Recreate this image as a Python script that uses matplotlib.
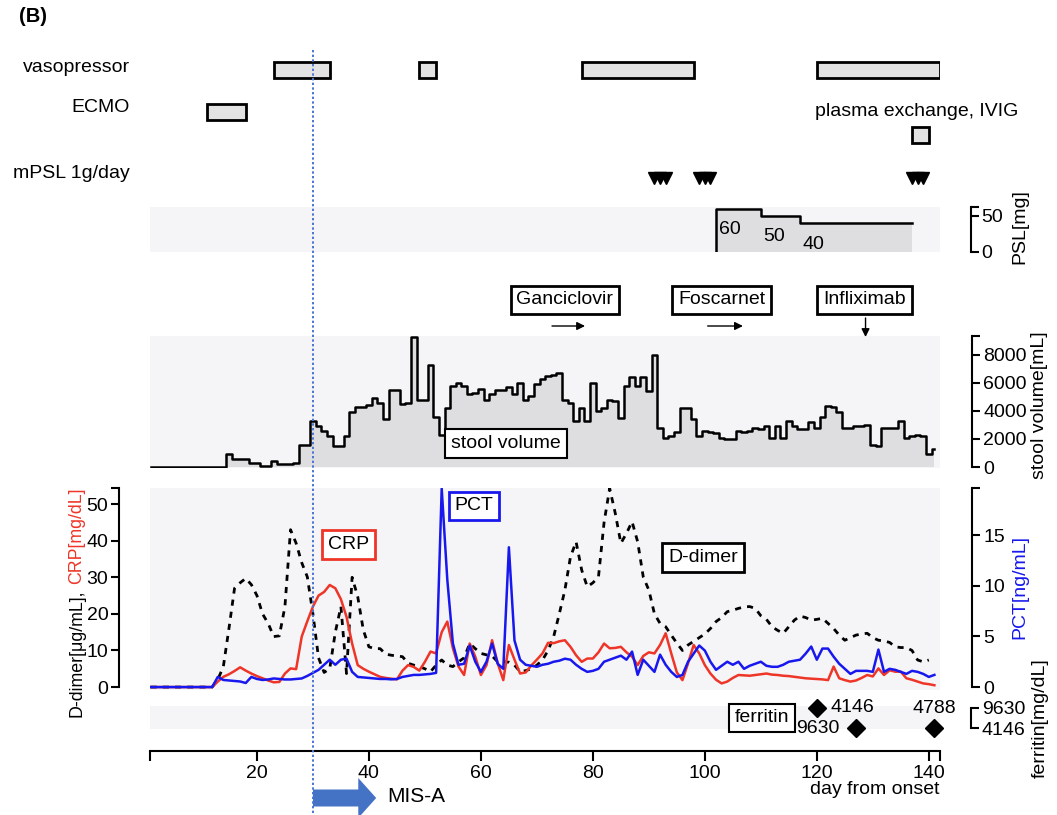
import numpy as np
import matplotlib.pyplot as plt
from matplotlib.patches import FancyArrow

plt.rcParams['font.family'] = ['Liberation Sans', 'DejaVu Sans']
plt.rcParams['font.size'] = 14
plt.rcParams['axes.linewidth'] = 1.5

W, H = 1057, 815

# ---- data ----
vasopressor = [(23, 33), (49, 52), (78, 98), (120, 142)]
ecmo = [(11, 18)]
plasma_ivig = [(137, 140)]
mpsl_days = [91, 92, 93, 99, 100, 101, 137, 138, 139]

psl_start = [102, 110, 117]
psl_dose = [60, 50, 40]
psl_end = 137

drugs = ['Ganciclovir', 'Foscarnet', 'Infliximab']
drug_label_day = [75, 103, 128.5]
drug_arrow_from = [72.7, 100.5]
drug_arrow_to = [78.6, 106.8]
infliximab_day = 128.7

# daily values from day 1
stool_ml = [0] * 14 + [
    950, 550, 550, 550, 260, 260, 100, 100, 450, 250, 250, 200, 300, 1550, 1600,
    3300, 2900, 2600, 2200, 1500, 1500, 2200, 3900, 4300, 4300, 4400, 4950, 4600,
    3400, 5500, 5500, 4500, 4600, 9250, 4800, 4800, 7300, 3600, 2300, 4200, 5800,
    6000, 5800, 5200, 5300, 5600, 4800, 5200, 5500, 5500, 5700, 5200, 6000, 4800,
    5100, 5900, 6300, 6500, 6600, 6700, 4800, 4600, 3300, 4200, 3300, 6000, 4000,
    4200, 4800, 4700, 3500, 5800, 6400, 5800, 6400, 5400, 8000, 2800, 2100, 2200,
    2500, 4200, 4200, 3400, 2200, 2550, 2500, 2400, 2100, 2000, 2000, 2550, 2500,
    2550, 2800, 2700, 2900, 2100, 2900, 2100, 3300, 2900, 2700, 2700, 3200, 2800,
    3600, 4350, 4300, 3900, 2800, 2800, 2900, 2900, 3000, 1600, 1500, 2800, 2800,
    2800, 3300, 2100, 2200, 2300, 2200, 900, 1300]

crp = [0] * 12 + [
    1.5, 2.8, 3.5, 4.4, 5.4, 4.5, 3.7, 3.0, 2.4, 1.8, 1.3, 1.4, 3.7, 5.1, 4.9,
    13.8, 18, 22, 25, 26, 27.9, 27, 24, 19.2, 11.9, 6, 5, 4.2, 3.5, 2.8, 2.5, 2.3,
    2.1, 4.5, 6, 5.5, 4.5, 6.9, 9.7, 9.2, 15, 17.9, 10.6, 5.6, 3.3, 11.9, 8.3, 3.3,
    6, 12.8, 6.5, 1.9, 11.5, 7.5, 3.7, 4, 5.9, 7.5, 9.2, 12.1, 12, 12.5, 12.8, 11,
    8.7, 6.9, 7.8, 7.8, 9.5, 11.9, 10.6, 10.7, 11, 9.5, 8.3, 6, 8.5, 9.5, 9.2, 11.5,
    14.7, 9.2, 4, 1.9, 6.5, 11.5, 9.2, 6, 3.7, 2, 1, 1.5, 2.5, 3.3, 3.2, 3.1, 3.3,
    3.5, 3.7, 3.4, 3.3, 3.1, 3.0, 2.8, 2.6, 2.4, 2.3, 2.2, 2.1, 1.9, 5.6, 2.4, 1.9,
    1.5, 1.8, 2.5, 3.3, 2.9, 5.1, 3.3, 4.6, 4.2, 4.2, 2.4, 2.0, 1.5, 1.0, 0.8, 0.5]

pct = [0] * 12 + [
    1.0, 0.7, 0.65, 0.6, 0.55, 0.4, 1.0, 0.8, 0.7, 0.75, 0.85, 0.8, 0.75, 0.75,
    0.8, 0.85, 1.1, 1.4, 1.7, 2.2, 2.7, 2.2, 2.7, 2.8, 1.5, 1.0, 0.95, 0.9, 0.85,
    0.8, 0.8, 0.76, 0.8, 1.0, 1.1, 1.2, 1.2, 1.25, 1.3, 1.4, 19.6, 10.6, 4.3, 2.2,
    2.3, 4.1, 2.5, 1.5, 2.5, 4.3, 2.3, 1.8, 13.8, 4.6, 2.7, 2.2, 2.1, 2.0, 2.2, 2.3,
    2.5, 2.6, 2.8, 2.7, 2.2, 1.8, 1.5, 1.6, 1.8, 2.5, 2.7, 2.9, 3.1, 2.7, 3.5, 1.2,
    2.7, 2.1, 1.5, 3.2, 2.2, 1.5, 1.0, 1.2, 2.5, 3.3, 4.1, 3.6, 2.5, 1.7, 2.1, 2.5,
    2.2, 2.5, 1.8, 2.1, 2.3, 2.5, 2.1, 2.0, 2.0, 2.2, 2.5, 2.6, 2.7, 3.3, 4.0, 2.7,
    3.8, 3.8, 3.0, 2.3, 1.8, 1.3, 1.6, 1.6, 1.6, 1.5, 3.7, 1.5, 1.8, 1.7, 1.5, 1.3,
    1.6, 1.5, 1.3, 1.0, 1.2]

ddimer = [0] * 12 + [
    2, 5.6, 16, 27, 28.5, 29.7, 28, 25, 20, 17.4, 13.8, 14, 22, 43, 39.3, 34, 30.1,
    20, 8, 4, 5, 15, 22, 3.7, 30, 24.7, 15.6, 11, 10.5, 10.5, 9, 8.7, 8.5, 8.3, 6.5,
    6, 5.6, 5, 4.2, 6, 7.4, 6, 5.6, 6.9, 8, 11.9, 10.5, 9.2, 8.8, 8.5, 6.9, 6.9,
    6.8, 6, 4.2, 4.5, 5, 6, 7.4, 10, 13.8, 20, 26.5, 35.6, 39.7, 32, 27.4, 28.5,
    30.1, 45, 54.3, 47.5, 39.3, 42, 45.2, 39.7, 30.1, 26.5, 20, 17.4, 16.5, 14.2,
    12, 10, 11.5, 12.5, 13.5, 14.5, 16, 17.9, 19, 20.6, 21, 21.5, 21.9, 22, 21.5,
    19.5, 18.5, 16.5, 15.5, 14.7, 16.5, 18.3, 19.4, 19, 18.3, 18.5, 18.8, 17.4, 16,
    14.2, 12.8, 13.5, 14.2, 14.5, 14.7, 13.5, 12.8, 12.6, 12.2, 11, 10.8, 10.8, 10,
    7.4, 6.9, 7.4]

ferritin_days = [120, 127, 141]
ferritin_level = [9630, 4146, 4146]
ferritin_text = ['4146', '9630', '4788']

mis_a_day = 30
x_ticks = [20, 40, 60, 80, 100, 120, 140]

# ---- style ----
XL = (0.9, 142)
PANEL_BG = '#f5f5f7'
FILL = '#dedee0'
BAR = '#e3e3e3'
RED = '#ee3528'
BLUE = '#1818ee'
LINE_BLUE = '#4a74d6'


def box(left, top, right, bottom):
    return [left / W, 1 - bottom / H, (right - left) / W, (bottom - top) / H]


def bare(ax):
    ax.set_xlim(XL)
    for s in ax.spines.values():
        s.set_visible(False)
    ax.set_xticks([])
    ax.set_yticks([])


fig = plt.figure(figsize=(W / 100, H / 100), dpi=100)

# ---- treatment rows ----
ax_ev = fig.add_axes(box(150, 40, 940, 200))
bare(ax_ev)
ax_ev.set_ylim(200, 40)
ax_ev.patch.set_alpha(0)
for rows, ypos in [(vasopressor, 70), (ecmo, 111.5), (plasma_ivig, 135)]:
    for s, e in rows:
        ax_ev.barh(ypos, e - s, left=s, height=16, color=BAR,
                   edgecolor='black', linewidth=2)
ax_ev.plot(mpsl_days, [178] * len(mpsl_days), 'v', color='black', ms=8)

fig.text(130 / W, 1 - 67 / H, 'vasopressor', ha='right', va='center')
fig.text(130 / W, 1 - 108 / H, 'ECMO', ha='right', va='center')
fig.text(130 / W, 1 - 173 / H, 'mPSL 1g/day', ha='right', va='center')
fig.text(917 / W, 1 - 112 / H, 'plasma exchange, IVIG', ha='center', va='center')
fig.text(19 / W, 1 - 17 / H, '(B)', ha='left', va='center', fontweight='bold',
         fontsize=14.5)

# ---- PSL ----
ax_psl = fig.add_axes(box(150, 207, 940, 252))
bare(ax_psl)
ax_psl.set_facecolor(PANEL_BG)
ax_psl.set_ylim(0, 62.5)
edges = psl_start + [psl_end]
xs, ys = [psl_start[0]], [0]
for i, d in enumerate(psl_dose):
    xs += [edges[i], edges[i + 1]]
    ys += [d, d]
ax_psl.fill_between(xs, ys, color=FILL, lw=0)
ax_psl.plot(xs, ys, color='black', lw=1.8)
for s, d in zip(psl_start, psl_dose):
    ax_psl.annotate(str(d), (s, d), xytext=(2, -15), textcoords='offset points',
                    ha='left', va='center')

# ---- drugs, MIS-A marker ----
ax_ov = fig.add_axes(box(150, 0, 940, 815), zorder=10)
bare(ax_ov)
ax_ov.set_ylim(815, 0)
ax_ov.patch.set_alpha(0)
for name, d in zip(drugs, drug_label_day):
    ax_ov.text(d, 300, name, ha='center', va='center',
               bbox=dict(boxstyle='square,pad=0.3', fc='white', ec='black', lw=2))
for a, b in zip(drug_arrow_from, drug_arrow_to):
    ax_ov.annotate('', xy=(b, 326), xytext=(a, 326),
                   arrowprops=dict(arrowstyle='-|>', color='black', lw=1,
                                   mutation_scale=12, shrinkA=0, shrinkB=0))
ax_ov.annotate('', xy=(infliximab_day, 337), xytext=(infliximab_day, 318),
               arrowprops=dict(arrowstyle='-|>', color='black', lw=1,
                               mutation_scale=12, shrinkA=0, shrinkB=0))
ax_ov.vlines(mis_a_day, 50, 815, colors=LINE_BLUE, linestyles=(0, (1.2, 1.2)), lw=1.4)
ax_ov.add_patch(FancyArrow(mis_a_day, 798, 11.3, 0, width=17, head_width=40,
                           head_length=3.2, length_includes_head=True,
                           color='#4472c4', lw=0))
ax_ov.text(43.2, 797, 'MIS-A', ha='left', va='center', fontsize=15)

# ---- stool ----
days = np.arange(1, len(stool_ml) + 1)
ax_st = fig.add_axes(box(150, 336, 940, 468))
bare(ax_st)
ax_st.set_facecolor(PANEL_BG)
ax_st.set_ylim(-70, 9350)
ax_st.fill_between(days, stool_ml, step='mid', color=FILL, lw=0)
ax_st.step(days, stool_ml, where='mid', color='black', lw=1.8)
ax_st.text(64.5, 1680, 'stool volume', ha='center', va='center', zorder=5,
           bbox=dict(boxstyle='square,pad=0.3', fc='white', ec='black', lw=1.5))

# ---- labs ----
ax_lab = fig.add_axes(box(150, 488, 940, 690))
bare(ax_lab)
ax_lab.set_facecolor(PANEL_BG)
ax_lab.set_ylim(-0.8, 54.4)
ax_pct = ax_lab.twinx()
bare(ax_pct)
ax_pct.set_ylim(-0.29, 19.65)

ax_lab.plot(np.arange(1, len(ddimer) + 1), ddimer, color='black', lw=2,
            ls=(0, (2.2, 2.2)))
ax_lab.plot(np.arange(1, len(crp) + 1), crp, color=RED, lw=1.8)
ax_pct.plot(np.arange(1, len(pct) + 1), pct, color=BLUE, lw=1.8)

ax_lab.text(36.4, 39, 'CRP', ha='center', va='center',
            bbox=dict(boxstyle='square,pad=0.3', fc='white', ec=RED, lw=2))
ax_lab.text(58.8, 49.5, 'PCT', ha='center', va='center',
            bbox=dict(boxstyle='square,pad=0.3', fc='white', ec=BLUE, lw=2))
ax_lab.text(99.7, 35.4, 'D-dimer', ha='center', va='center',
            bbox=dict(boxstyle='square,pad=0.3', fc='white', ec='black', lw=2))

# ---- ferritin ----
ax_fe = fig.add_axes(box(150, 706, 940, 729))
bare(ax_fe)
ax_fe.set_facecolor(PANEL_BG)
ax_fe.set_ylim(3872, 10178)
ax_fe.plot(ferritin_days, ferritin_level, 'D', color='black', ms=9, clip_on=False)
offsets = [((10, 0), 'left'), ((-12, 0), 'right'), ((0, 14), 'center')]
for d, v, t, (off, ha) in zip(ferritin_days, ferritin_level, ferritin_text, offsets):
    ax_fe.annotate(t, (d, v), xytext=off, textcoords='offset points',
                   ha=ha, va='center')
ax_fe.text(110.2, 6888, 'ferritin', ha='center', va='center',
           bbox=dict(boxstyle='square,pad=0.3', fc='white', ec='black', lw=1.5))


# ---- offset axes ----
def side_axis(ax, side, out, lo, hi, ticks, labels):
    sp = ax.spines[side]
    sp.set_visible(True)
    sp.set_position(('outward', out))
    sp.set_bounds(lo, hi)
    sp.set_linewidth(1.5)
    if side == 'right':
        ax.yaxis.tick_right()
    else:
        ax.yaxis.tick_left()
    ax.set_yticks(ticks, labels)
    ax.tick_params(axis='y', direction='out', length=6, width=1.5,
                   labelsize=14, pad=2)


side_axis(ax_psl, 'right', 22, 0, 62.5, [0, 50, 62.5], ['0', '50', ''])
side_axis(ax_st, 'right', 23, 0, 9350, [0, 2000, 4000, 6000, 8000, 9350],
          ['0', '2000', '4000', '6000', '8000', ''])
side_axis(ax_lab, 'left', 22, 0, 54.4, [0, 10, 20, 30, 40, 50, 54.4],
          ['0', '10', '20', '30', '40', '50', ''])
side_axis(ax_pct, 'right', 23, 0, 19.65, [0, 5, 10, 15, 19.65],
          ['0', '5', '10', '15', ''])
side_axis(ax_fe, 'right', 22, 4146, 9630, [4146, 9630], ['4146', '9630'])

ax_x = fig.add_axes(box(150, 745, 940, 751))
ax_x.set_xlim(XL)
ax_x.patch.set_alpha(0)
for s in ['top', 'left', 'right']:
    ax_x.spines[s].set_visible(False)
ax_x.set_yticks([])
ax_x.set_xticks(x_ticks + list(XL), [str(t) for t in x_ticks] + ['', ''])
ax_x.tick_params(axis='x', direction='out', length=7, width=1.5,
                 labelsize=14, pad=3)
fig.text(940 / W, 1 - 789 / H, 'day from onset', ha='right', va='center')

# ---- axis titles ----
fig.text(1040 / W, 1 - 405 / H, 'stool volume[mL]', rotation=90,
         ha='center', va='center')
fig.text(1020 / W, 1 - 227 / H, 'PSL[mg]', rotation=90, ha='center', va='center')
fig.text(1020 / W, 1 - 587 / H, 'PCT[ng/mL]', rotation=90, ha='center',
         va='center', color=BLUE)
fig.text(1040 / W, 1 - 718 / H, 'ferritin[mg/dL]', rotation=90, ha='center',
         va='center')

t1 = fig.text(77 / W, 1 - 717 / H, 'D-dimer[μg/mL],', rotation=90,
              rotation_mode='anchor', ha='left', va='center', fontsize=12.8)
fig.canvas.draw()
bb = t1.get_window_extent()
fig.text(77 / W, (bb.y1 + 5) / H, 'CRP[mg/dL]', rotation=90,
         rotation_mode='anchor', ha='left', va='center', color=RED, fontsize=12.8)

fig.savefig('out.png', dpi=100)
